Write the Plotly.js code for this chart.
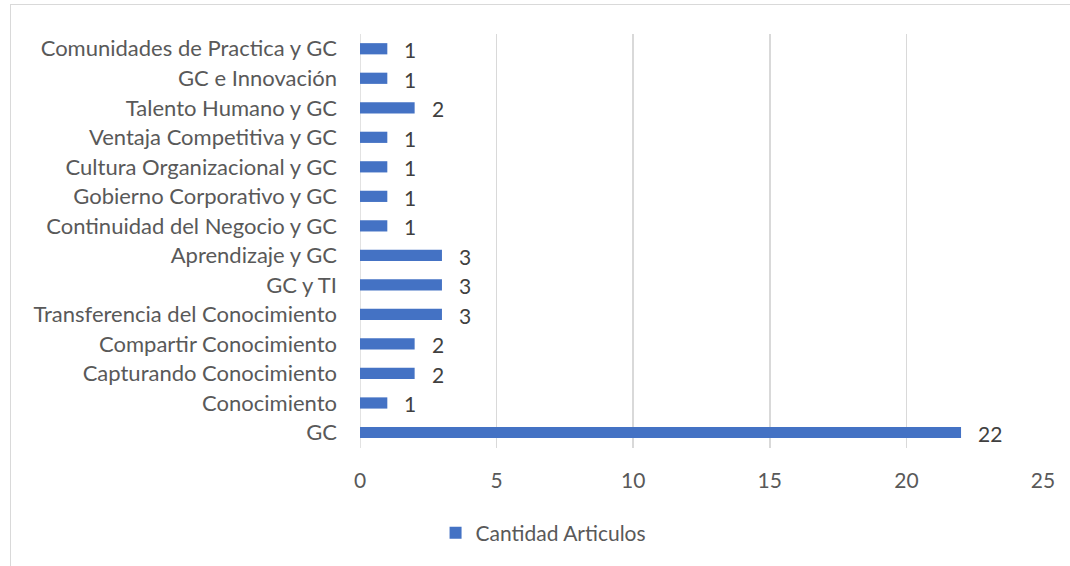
<!DOCTYPE html>
<html>
<head>
<meta charset="utf-8">
<script src="https://cdn.plot.ly/plotly-3.0.1.min.js"></script>
<style>
html,body{margin:0;padding:0;background:#fff;}
#wrap{position:relative;width:1070px;height:566px;overflow:hidden;}
#chart{position:absolute;left:0;top:0;width:1070px;height:566px;}
#frame{position:absolute;left:10px;top:4px;width:1100px;height:600px;border-left:1.5px solid #d9d9d9;border-top:1.5px solid #d9d9d9;pointer-events:none;}
</style>
</head>
<body>
<div id="wrap"><div id="chart"></div><div id="frame"></div></div>
<script>
const categories = [
  "GC",
  "Conocimiento",
  "Capturando Conocimiento",
  "Compartir Conocimiento",
  "Transferencia del Conocimiento",
  "GC y TI",
  "Aprendizaje y GC",
  "Continuidad del Negocio y GC",
  "Gobierno Corporativo y GC",
  "Cultura Organizacional y GC",
  "Ventaja Competitiva y GC",
  "Talento Humano y GC",
  "GC e Innovación",
  "Comunidades de Practica y GC"
];
const values = [22, 1, 2, 2, 3, 3, 3, 1, 1, 1, 1, 2, 1, 1];
const seriesName = "Cantidad Articulos";
const xTicks = [0, 5, 10, 15, 20, 25];

const FONT = "Lato, 'Open Sans', sans-serif";

const trace = {
  type: "bar",
  orientation: "h",
  y: categories,
  x: values,
  name: seriesName,
  marker: {color: "#4472C4"},
  width: 0.38,
  hoverinfo: "x+y"
};

const annotations = values.map((v, i) => ({
  x: v, y: categories[i], xref: "x", yref: "y",
  text: String(v), showarrow: false,
  xanchor: "left", xshift: 15, yshift: -1,
  font: {family: FONT, size: 21, color: "#404040"}
}));

const layout = {
  width: 1070, height: 566,
  margin: {l: 360, r: 27, t: 34, b: 118, pad: 0},
  paper_bgcolor: "#ffffff",
  plot_bgcolor: "#ffffff",
  showlegend: true,
  legend: {
    orientation: "h", x: 0.508, xanchor: "center", xref: "container",
    y: 0.058, yanchor: "middle", yref: "container",
    font: {family: FONT, size: 21, color: "#595959"},
    itemwidth: 30
  },
  xaxis: {
    range: [0, 25], tickvals: xTicks, ticktext: xTicks.map(String),
    showgrid: true, gridcolor: "#d9d9d9", gridwidth: 1.5,
    zeroline: false, showline: false, ticks: "",
    tickfont: {family: FONT, size: 21, color: "#595959"},
    ticklabelstandoff: 18, fixedrange: true
  },
  yaxis: {
    type: "category", categoryorder: "array", categoryarray: categories,
    showgrid: false, zeroline: false, showline: false, ticks: "",
    tickfont: {family: FONT, size: 22, color: "#595959"},
    ticklabelstandoff: 22, fixedrange: true
  },
  shapes: [{
    type: "line", xref: "x", yref: "paper", x0: 0, x1: 0, y0: 0, y1: 1,
    line: {color: "#d9d9d9", width: 1.5}, layer: "below"
  }],
  annotations: annotations
};

Plotly.newPlot("chart", [trace], layout, {displayModeBar: false, staticPlot: true});
</script>
</body>
</html>
